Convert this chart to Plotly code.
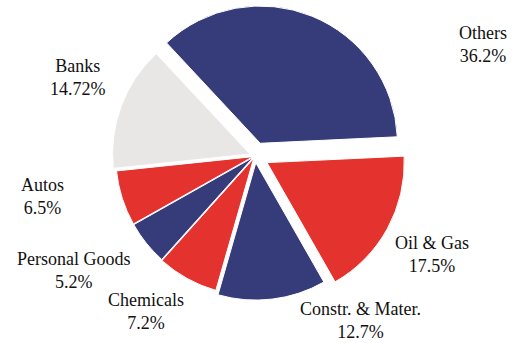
import plotly.graph_objects as go

sectors = ["Others", "Oil & Gas", "Constr. & Mater.", "Chemicals",
           "Personal Goods", "Autos", "Banks"]
shares = [36.2, 17.5, 12.7, 7.2, 5.2, 6.5, 14.72]
colors = ["#363c7a", "#e4322f", "#363c7a", "#e4322f",
          "#363c7a", "#e4322f", "#e8e7e5"]
pulls = [0.10, 0.10, 0.05, 0.02, 0.015, 0.015, 0.04]

# label anchor positions (pixels, layout only)
label_pos = {
    "Others": (483, 45),
    "Oil & Gas": (432, 254),
    "Constr. & Mater.": (360, 320),
    "Chemicals": (146, 311),
    "Personal Goods": (74, 270),
    "Autos": (42, 197),
    "Banks": (78, 77),
}

W, H = 526, 343
cx, cy, half = 255, 156, 151

fig = go.Figure(go.Pie(
    labels=sectors,
    values=shares,
    sort=False,
    direction="clockwise",
    rotation=-43,
    pull=pulls,
    marker=dict(colors=colors, line=dict(color="white", width=1)),
    textinfo="none",
    hoverinfo="label+percent",
    showlegend=False,
    domain=dict(x=[(cx - half) / W, (cx + half) / W],
                y=[1 - (cy + half) / H, 1 - (cy - half) / H]),
))

for s, v in zip(sectors, shares):
    px, py = label_pos[s]
    fig.add_annotation(
        x=px / W, y=1 - py / H, xref="paper", yref="paper",
        text=f"{s}<br>{v}%", showarrow=False,
        xanchor="center", yanchor="middle", align="center",
        font=dict(family="Liberation Serif", size=18, color="#111111"),
    )

fig.update_layout(
    width=W, height=H,
    margin=dict(l=0, r=0, t=0, b=0),
    paper_bgcolor="white", plot_bgcolor="white",
)

fig.write_html("out.html")
